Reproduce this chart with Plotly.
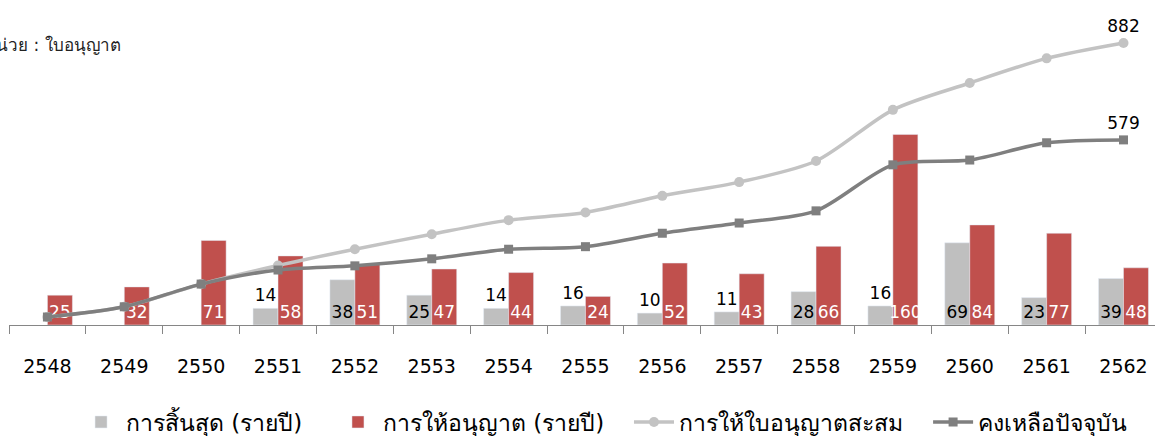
import plotly.graph_objects as go

years = ["2548", "2549", "2550", "2551", "2552", "2553", "2554", "2555",
         "2556", "2557", "2558", "2559", "2560", "2561", "2562"]
expired = [None, None, None, 14, 38, 25, 14, 16, 10, 11, 28, 16, 69, 23, 39]
granted = [25, 32, 71, 58, 51, 47, 44, 24, 52, 43, 66, 160, 84, 77, 48]
cumulative = [25, 57, 128, 186, 237, 284, 328, 352, 404, 447, 513, 673, 757, 834, 882]
remaining = [25, 57, 128, 172, 185, 207, 237, 245, 287, 319, 357, 501, 516, 570, 579]

names = ["การสิ้นสุด (รายปี)", "การให้อนุญาต (รายปี)", "การให้ใบอนุญาตสะสม", "คงเหลือปัจจุบัน"]
unit_label = "หน่วย : ใบอนุญาต"

FONT = "DejaVu Sans, Tahoma, sans-serif"

def last_only(vals):
    return [""] * (len(vals) - 1) + [str(vals[-1])]

fig = go.Figure()
fig.add_trace(go.Bar(
    x=years, y=expired, name=names[0], marker=dict(color="#BFBFBF"), legend="legend",
    text=[("" if v is None else str(v)) for v in expired],
    textposition="auto", insidetextanchor="start", textangle=0,
    textfont=dict(color="black", size=17, family=FONT),
    outsidetextfont=dict(color="black", size=17, family=FONT),
    insidetextfont=dict(color="black", size=17, family=FONT),
    constraintext="none", cliponaxis=False,
))
fig.add_trace(go.Bar(
    x=years, y=granted, name=names[1], marker=dict(color="#C0504D"), legend="legend2",
    text=[str(v) for v in granted],
    textposition="inside", insidetextanchor="start", textangle=0,
    insidetextfont=dict(color="white", size=17, family=FONT),
    constraintext="none",
))
fig.add_trace(go.Scatter(
    x=years, y=cumulative, name=names[2], yaxis="y2", legend="legend3",
    mode="lines+markers+text", line=dict(color="#C3C3C3", width=3.5, shape="spline", smoothing=0.8),
    marker=dict(symbol="circle", size=10, color="#C3C3C3"),
    text=last_only(cumulative), textposition="top center",
    textfont=dict(color="black", size=17, family=FONT), cliponaxis=False,
))
fig.add_trace(go.Scatter(
    x=years, y=remaining, name=names[3], yaxis="y2", legend="legend4",
    mode="lines+markers+text", line=dict(color="#7F7F7F", width=3.5, shape="spline", smoothing=0.8),
    marker=dict(symbol="square", size=9, color="#7F7F7F"),
    text=last_only(remaining), textposition="top center",
    textfont=dict(color="black", size=17, family=FONT), cliponaxis=False,
))

def leg(xpos):
    return dict(orientation="h", x=xpos, y=-0.318, xanchor="left", yanchor="middle",
                font=dict(size=23, family=FONT, color="black"), itemwidth=40,
                bgcolor="rgba(0,0,0,0)")

fig.update_layout(
    width=1155, height=436,
    margin=dict(l=9, r=0, t=20, b=111, autoexpand=False),
    paper_bgcolor="white", plot_bgcolor="white",
    barmode="group", bargap=0.35, bargroupgap=0,
    font=dict(family=FONT, color="black"),
    showlegend=True,
    legend=leg(0.0585), legend2=leg(0.2827), legend3=leg(0.541), legend4=leg(0.802),
    xaxis=dict(type="category", range=[-0.5, 14.41], tickson="boundaries",
               ticks="outside", ticklen=8, tickcolor="#868686", tickwidth=1.3,
               showline=True, linecolor="#868686", linewidth=1.3,
               tickfont=dict(size=19, family=FONT, color="black"),
               ticklabelstandoff=24, showgrid=False, zeroline=False),
    yaxis=dict(range=[0, 256], visible=False, showgrid=False, zeroline=False),
    yaxis2=dict(range=[0, 954], overlaying="y", visible=False, showgrid=False, zeroline=False),
    annotations=[dict(text=unit_label, xref="paper", yref="paper", x=0.0995, y=0.918,
                      xanchor="right", yanchor="middle", showarrow=False,
                      font=dict(size=17, family=FONT, color="#222222"))],
)

fig.write_html("out.html", config={"displayModeBar": False},
               post_script="document.body.style.margin='0px';")
